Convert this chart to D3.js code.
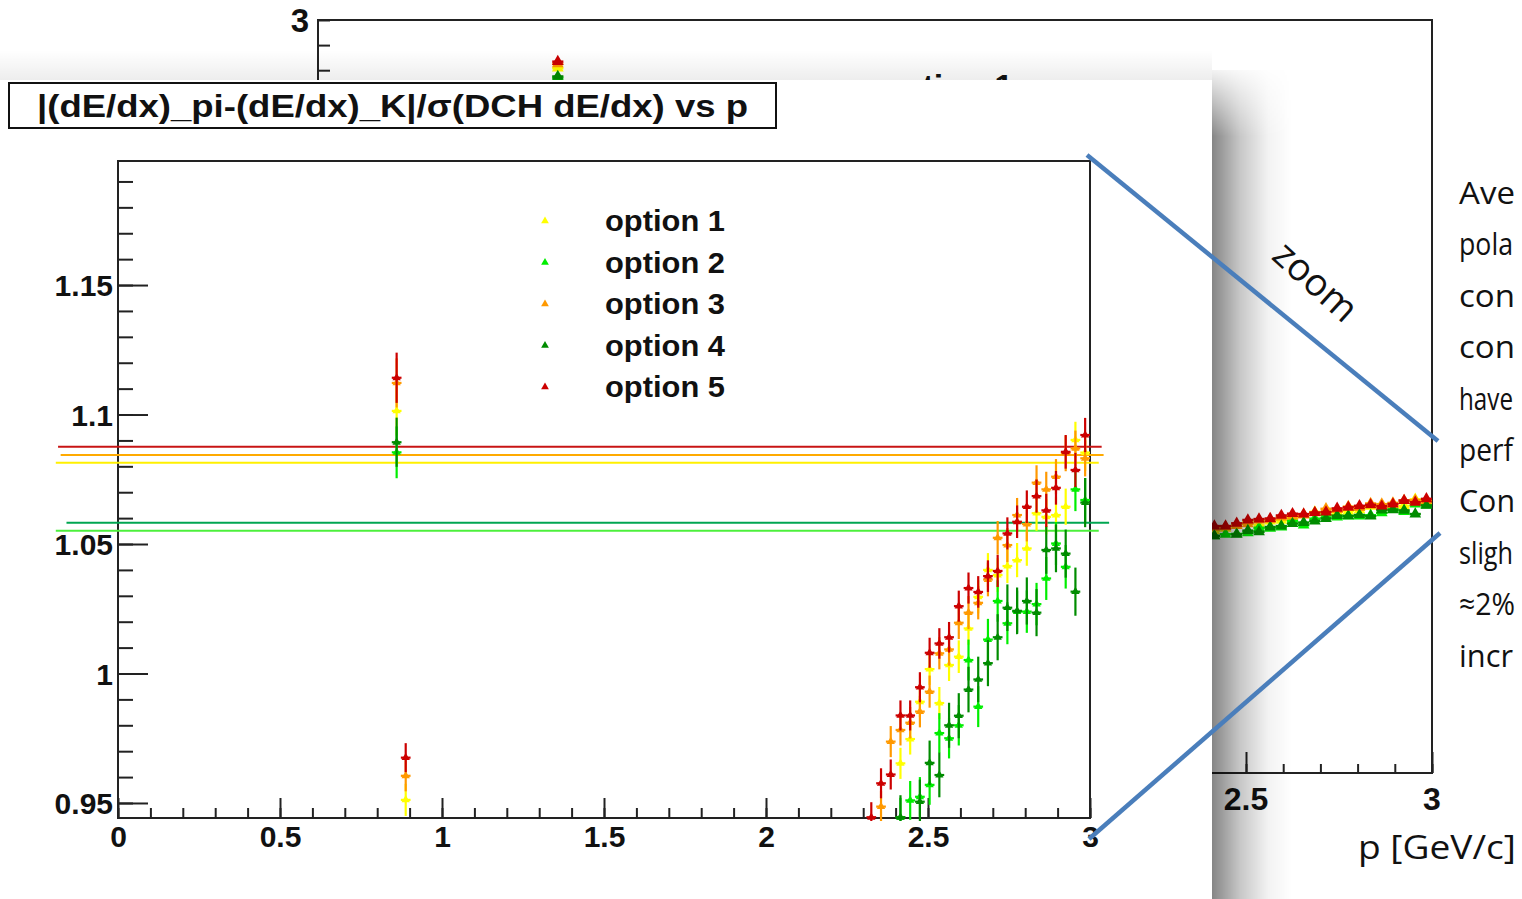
<!DOCTYPE html>
<html><head><meta charset="utf-8">
<script src="https://cdn.jsdelivr.net/npm/d3@7"></script>
<style>html,body{margin:0;padding:0;background:#fff;overflow:hidden}</style>
</head><body>
<svg id="c" width="1522" height="899" xmlns="http://www.w3.org/2000/svg"></svg>
<script>
// ---------------- DATA ----------------
const seriesNames = ["option 1", "option 2", "option 3", "option 4", "option 5"];
// bin centres (GeV/c): two isolated bins near 0.87, then the dense region 2.325..2.985
const pBins = [0.86, 0.888, 2.325, 2.355, 2.385, 2.415, 2.445, 2.475, 2.505, 2.535, 2.565, 2.595, 2.625,
  2.655, 2.685, 2.715, 2.745, 2.775, 2.805, 2.835, 2.865, 2.895, 2.925, 2.955, 2.985];
const option1 = [1.1014, 0.9512, null, null, null, 0.9653, 0.9747, 0.9891, 1.0017, 0.9886, 1.0033, 1.0065, 1.0174,
  1.0296, 1.0400, 1.0380, 1.0415, 1.0438, 1.0483, 1.0619, 1.0605, 1.0612, 1.0644, 1.0902, 1.0853];
const option2 = [1.0854, null, null, null, null, 0.9445, 0.9510, 0.9524, 0.9570, 0.9770, 0.9750, 0.9800, 1.0052,
  0.9872, 1.0131, 1.0280, 1.0194, 1.0239, 1.0239, 1.0268, 1.0367, 1.0502, 1.0412, 1.0711, 1.0670];
const option3 = [1.1122, 0.9605, null, 0.9486, 0.9737, 0.9782, 0.9810, 0.9853, 0.9930, 1.0078, 1.0093, 1.0196, 1.0235,
  1.0273, 1.0363, 1.0524, 1.0496, 1.0612, 1.0577, 1.0737, 1.0711, 1.0760, 1.0850, 1.0869, 1.0831];
const option4 = [1.0893, null, null, null, null, 0.9445, null, 0.9505, 0.9655, 0.9608, 0.9800, 0.9837, 0.9938,
  0.9977, 1.0040, 1.0140, 1.0254, 1.0242, 1.0280, 1.0235, 1.0477, 1.0483, 1.0463, 1.0316, 1.0660];
const option5 = [1.1142, 0.9675, 0.9445, 0.9576, 0.9610, 0.9838, 0.9838, 0.9947, 1.0080, 1.0116, 1.0140, 1.0260, 1.0330,
  1.0315, 1.0376, 1.0396, 1.0541, 1.0586, 1.0644, 1.0685, 1.0630, 1.0717, 1.0856, 1.0786, 1.0921];
// symmetric statistical errors
const error1 = [0.0095, 0.0062, 0, 0, 0, 0.0060, 0.0060, 0.0060, 0.0061, 0.0062, 0.0062, 0.0063, 0.0063,
  0.0064, 0.0065, 0.0065, 0.0066, 0.0066, 0.0067, 0.0068, 0.0068, 0.0069, 0.0070, 0.0070, 0.0071];
const error2 = [0.0100, 0, 0, 0, 0, 0.0075, 0.0075, 0.0076, 0.0077, 0.0077, 0.0078, 0.0078, 0.0079,
  0.0079, 0.0080, 0.0080, 0.0081, 0.0081, 0.0082, 0.0082, 0.0083, 0.0083, 0.0084, 0.0084, 0.0085];
const error3 = [0.0095, 0.0060, 0, 0.0060, 0.0060, 0.0060, 0.0061, 0.0061, 0.0062, 0.0062, 0.0063, 0.0063, 0.0064,
  0.0064, 0.0065, 0.0065, 0.0066, 0.0066, 0.0067, 0.0067, 0.0068, 0.0068, 0.0069, 0.0069, 0.0070];
const error4 = [0.0095, 0, 0, 0, 0, 0.0085, 0, 0.0085, 0.0086, 0.0086, 0.0087, 0.0087, 0.0088,
  0.0088, 0.0089, 0.0089, 0.0090, 0.0090, 0.0091, 0.0091, 0.0092, 0.0092, 0.0093, 0.0093, 0.0095];
const error5 = [0.0097, 0.0056, 0.0058, 0.0058, 0.0058, 0.0058, 0.0058, 0.0058, 0.0058, 0.0059, 0.0059, 0.0060, 0.0060,
  0.0061, 0.0061, 0.0062, 0.0062, 0.0063, 0.0063, 0.0064, 0.0064, 0.0065, 0.0065, 0.0066, 0.0066];
// horizontal mean lines (value, start p, end p)
const meanValues = [1.0814, 1.0551, 1.0844, 1.0582, 1.0876];
const meanStart = [-0.192, -0.192, -0.177, -0.159, -0.185];
const meanEnd = [3.027, 3.027, 3.042, 3.059, 3.036];
// underlying full-range plot: one extra high point
const bgExtraP = [0.65];
const bgExtraValues = [[2.808], [2.770], [2.825], [2.775], [2.834]];
// axis ticks
const xTickValues = [0, 0.5, 1, 1.5, 2, 2.5, 3];
const xTickLabels = ["0", "0.5", "1", "1.5", "2", "2.5", "3"];
const yTickValues = [0.95, 1, 1.05, 1.1, 1.15];
const yTickLabels = ["0.95", "1", "1.05", "1.1", "1.15"];
const titleText = "|(dE/dx)_pi-(dE/dx)_K|/\u03c3(DCH dE/dx) vs p";
// slide text, cut by the right edge of the slide
const sideText = ["Ave", "pola", "con", "con", "have", "perf", "Con", "sligh", "\u22482%", "incr"];

// ---------------- STYLE ----------------
const markerColors = ["#ffff00", "#00ee00", "#ff9900", "#008c00", "#cc0000"];
const lineColors = ["#fff000", "#4cf03c", "#ffaa00", "#00a651", "#c81414"];
const values = [option1, option2, option3, option4, option5];
const errors = [error1, error2, error3, error4, error5];
const ROOT = "'Liberation Sans', Arial, Helvetica, sans-serif";
const SLIDE = "'Open Sans', 'Noto Sans', sans-serif";

const svg = d3.select("#c");
const defs = svg.append("defs");

// ---------------- BACKGROUND (full range) PLOT ----------------
const bx = d3.scaleLinear().domain([0, 3]).range([316, 1432]);
const by = d3.scaleLinear().domain([0, 3]).range([773, 20]);
defs.append("clipPath").attr("id", "bgclip").append("rect")
  .attr("x", 318).attr("y", 20).attr("width", 1114).attr("height", 753);
const bg = svg.append("g");
bg.append("path").attr("d", `M318,20 H1432 V773 H318 Z`).attr("fill", "none").attr("stroke", "#222").attr("stroke-width", 2);
const byMinor = d3.range(2.0, 3.0001, 0.1);
bg.append("g").attr("transform", "translate(318,0)")
  .call(d3.axisRight(by).tickValues(byMinor).tickSize(12).tickFormat(""))
  .call(g => g.select(".domain").remove())
  .selectAll("line").attr("stroke", "#222").attr("stroke-width", 2);
bg.append("text").attr("x", 309).attr("y", 32).attr("text-anchor", "end")
  .attr("font-family", ROOT).attr("font-weight", "bold").attr("font-size", 33).attr("fill", "#111").text("3");
bg.append("g").attr("transform", "translate(0,773)")
  .call(d3.axisTop(bx).tickValues(d3.range(2.0, 3.0001, 0.1)).tickSize(9).tickFormat(""))
  .call(g => g.select(".domain").remove())
  .selectAll("line").attr("stroke", "#222").attr("stroke-width", 2);
bg.append("g").attr("transform", "translate(0,773)")
  .call(d3.axisTop(bx).tickValues([2.5, 3]).tickSize(21).tickFormat(""))
  .call(g => g.select(".domain").remove())
  .selectAll("line").attr("stroke", "#222").attr("stroke-width", 2);
[[2.5, "2.5"], [3, "3"]].forEach(t => bg.append("text").attr("x", bx(t[0])).attr("y", 810)
  .attr("text-anchor", "middle").attr("font-family", ROOT).attr("font-weight", "bold")
  .attr("font-size", 32).attr("fill", "#111").text(t[1]));
bg.append("text").attr("x", 881).attr("y", 98).attr("font-family", ROOT).attr("font-weight", "bold")
  .attr("font-size", 34).attr("fill", "#111").text(seriesNames[0]);
const bgData = bg.append("g").attr("clip-path", "url(#bgclip)");
const tri = d3.symbol().type(d3.symbolTriangle);
values.forEach((vals, si) => {
  const pts = pBins.map((p, j) => ({p, v: vals[j], e: errors[si][j]})).filter(d => d.v != null)
    .concat(bgExtraP.map((p, j) => ({p, v: bgExtraValues[si][j], e: 0.01})));
  const g = bgData.append("g");
  g.selectAll("line.h").data(pts).join("line").attr("class", "h")
    .attr("x1", d => bx(d.p - 0.015)).attr("x2", d => bx(d.p + 0.015))
    .attr("y1", d => by(d.v)).attr("y2", d => by(d.v))
    .attr("stroke", markerColors[si]).attr("stroke-width", 2.5);
  g.selectAll("line.v").data(pts).join("line").attr("class", "v")
    .attr("x1", d => bx(d.p)).attr("x2", d => bx(d.p))
    .attr("y1", d => by(d.v - d.e)).attr("y2", d => by(d.v + d.e))
    .attr("stroke", markerColors[si]).attr("stroke-width", 2);
  g.selectAll("path").data(pts).join("path")
    .attr("d", tri.size(60)())
    .attr("transform", d => `translate(${bx(d.p)},${by(d.v)})`)
    .attr("fill", markerColors[si]);
});

// ---------------- INSET SHADOW ----------------
const rg = defs.append("linearGradient").attr("id", "shR").attr("x1", 0).attr("x2", 1).attr("y1", 0).attr("y2", 0);
rg.append("stop").attr("offset", 0).attr("stop-color", "#000").attr("stop-opacity", 0.48);
rg.append("stop").attr("offset", 0.35).attr("stop-color", "#000").attr("stop-opacity", 0.22);
rg.append("stop").attr("offset", 0.7).attr("stop-color", "#000").attr("stop-opacity", 0.05);
rg.append("stop").attr("offset", 1).attr("stop-color", "#000").attr("stop-opacity", 0);
const mg = defs.append("linearGradient").attr("id", "shM").attr("x1", 0).attr("x2", 0).attr("y1", 0).attr("y2", 1);
mg.append("stop").attr("offset", 0).attr("stop-color", "#fff").attr("stop-opacity", 0.1);
mg.append("stop").attr("offset", 0.08).attr("stop-color", "#fff").attr("stop-opacity", 1);
mg.append("stop").attr("offset", 1).attr("stop-color", "#fff").attr("stop-opacity", 1);
defs.append("mask").attr("id", "shMask").attr("maskUnits", "userSpaceOnUse")
  .append("rect").attr("x", 1212).attr("y", 70).attr("width", 90).attr("height", 830).attr("fill", "url(#shM)");
svg.append("rect").attr("x", 1212).attr("y", 70).attr("width", 80).attr("height", 830)
  .attr("fill", "url(#shR)").attr("mask", "url(#shMask)");
const tg = defs.append("linearGradient").attr("id", "shT").attr("x1", 0).attr("x2", 0).attr("y1", 0).attr("y2", 1);
tg.append("stop").attr("offset", 0).attr("stop-color", "#000").attr("stop-opacity", 0);
tg.append("stop").attr("offset", 1).attr("stop-color", "#000").attr("stop-opacity", 0.07);
svg.append("rect").attr("x", 0).attr("y", 50).attr("width", 1212).attr("height", 30).attr("fill", "url(#shT)");

// ---------------- INSET (zoomed) PLOT ----------------
const inset = svg.append("g");
inset.append("rect").attr("x", 0).attr("y", 80).attr("width", 1212).attr("height", 819).attr("fill", "#fff");

inset.append("rect").attr("x", 9).attr("y", 83).attr("width", 767).attr("height", 45)
  .attr("fill", "#fff").attr("stroke", "#111").attr("stroke-width", 2);
inset.append("text").attr("x", 37).attr("y", 117).attr("textLength", 711).attr("lengthAdjust", "spacingAndGlyphs")
  .attr("font-family", ROOT).attr("font-weight", "bold").attr("font-size", 31).attr("fill", "#111").text(titleText);

const x = d3.scaleLinear().domain([0, 3]).range([118, 1090]);
const y = d3.scaleLinear().domain([0.9442, 1.1979]).range([818, 161]);

inset.append("path").attr("d", `M${x(0)},${y.range()[0]} V${y.range()[1]} H${x(3)} V${y.range()[0]} Z`)
  .attr("fill", "none").attr("stroke", "#222").attr("stroke-width", 2);

const yMinor = d3.range(0.95, 1.1951, 0.01);
inset.append("g").attr("transform", `translate(${x(0)},0)`)
  .call(d3.axisRight(y).tickValues(yMinor).tickSize(15).tickFormat(""))
  .call(g => g.select(".domain").remove())
  .selectAll("line").attr("stroke", "#222").attr("stroke-width", 2);
const yAx = inset.append("g").attr("transform", `translate(${x(0)},0)`)
  .call(d3.axisLeft(y).tickValues(yTickValues).tickSize(-30).tickPadding(5)
    .tickFormat((d, i) => yTickLabels[i]));
yAx.select(".domain").remove();
yAx.selectAll("line").attr("stroke", "#222").attr("stroke-width", 2);
yAx.selectAll("text").attr("font-family", ROOT).attr("font-weight", "bold").attr("font-size", 30)
  .attr("fill", "#111").attr("dy", "0.36em");

inset.append("g").attr("transform", `translate(0,${y.range()[0]})`)
  .call(d3.axisTop(x).tickValues(d3.range(0, 3.0001, 0.1)).tickSize(10).tickFormat(""))
  .call(g => g.select(".domain").remove())
  .selectAll("line").attr("stroke", "#222").attr("stroke-width", 2);
const xAx = inset.append("g").attr("transform", `translate(0,${y.range()[0]})`)
  .call(d3.axisBottom(x).tickValues(xTickValues).tickSize(-20).tickPadding(8)
    .tickFormat((d, i) => xTickLabels[i]));
xAx.select(".domain").remove();
xAx.selectAll("line").attr("stroke", "#222").attr("stroke-width", 2);
xAx.selectAll("text").attr("font-family", ROOT).attr("font-weight", "bold").attr("font-size", 30)
  .attr("fill", "#111");

values.forEach((vals, si) => {
  inset.append("line").attr("x1", x(meanStart[si])).attr("x2", x(meanEnd[si]))
    .attr("y1", y(meanValues[si])).attr("y2", y(meanValues[si]))
    .attr("stroke", lineColors[si]).attr("stroke-width", 2);
});

defs.append("clipPath").attr("id", "pclip").append("rect")
  .attr("x", 118).attr("y", 161).attr("width", 972).attr("height", 660);
const dataG = inset.append("g").attr("clip-path", "url(#pclip)");
values.forEach((vals, si) => {
  const pts = pBins.map((p, j) => ({p, v: vals[j], e: errors[si][j]})).filter(d => d.v != null);
  const g = dataG.append("g");
  g.selectAll("line.v").data(pts).join("line").attr("class", "v")
    .attr("x1", d => x(d.p)).attr("x2", d => x(d.p))
    .attr("y1", d => y(d.v - d.e)).attr("y2", d => y(d.v + d.e))
    .attr("stroke", markerColors[si]).attr("stroke-width", 2.2);
  g.selectAll("line.h").data(pts).join("line").attr("class", "h")
    .attr("x1", d => x(d.p - 0.015)).attr("x2", d => x(d.p + 0.015))
    .attr("y1", d => y(d.v)).attr("y2", d => y(d.v))
    .attr("stroke", markerColors[si]).attr("stroke-width", 2.2);
  g.selectAll("path").data(pts).join("path")
    .attr("d", tri.size(30)())
    .attr("transform", d => `translate(${x(d.p)},${y(d.v)})`)
    .attr("fill", markerColors[si]);
});

const legend = inset.append("g");
seriesNames.forEach((name, i) => {
  const cy = 221 + i * 41.5;
  legend.append("path").attr("d", tri.size(26)()).attr("transform", `translate(545,${cy})`)
    .attr("fill", markerColors[i]);
  legend.append("text").attr("x", 605).attr("y", cy + 10).attr("textLength", 120).attr("lengthAdjust", "spacingAndGlyphs")
    .attr("font-family", ROOT).attr("font-weight", "bold").attr("font-size", 30).attr("fill", "#111").text(name);
});

// ---------------- SLIDE ANNOTATIONS ----------------
const blue = "#4a7ebb";
svg.append("line").attr("x1", 1087).attr("y1", 155).attr("x2", 1438).attr("y2", 441)
  .attr("stroke", blue).attr("stroke-width", 4.5);
svg.append("line").attr("x1", 1089).attr("y1", 839).attr("x2", 1440).attr("y2", 533)
  .attr("stroke", blue).attr("stroke-width", 4.5);
svg.append("text").attr("transform", "translate(1317,280) rotate(42)")
  .attr("text-anchor", "middle").attr("dominant-baseline", "central")
  .attr("font-family", SLIDE).attr("font-size", 38).attr("fill", "#111").text("zoom");
svg.append("text").attr("x", 1358).attr("y", 859).attr("textLength", 158).attr("lengthAdjust", "spacingAndGlyphs")
  .attr("font-family", SLIDE).attr("font-size", 33).attr("fill", "#111").text("p [GeV/c]");
sideText.forEach((t, i) => {
  svg.append("text").attr("x", 1459).attr("y", 204 + i * 51.4).attr("textLength", t.length > 3 ? 54 : 56)
    .attr("lengthAdjust", "spacingAndGlyphs")
    .attr("font-family", SLIDE).attr("font-size", 31).attr("fill", "#111").text(t);
});
</script>
</body></html>
